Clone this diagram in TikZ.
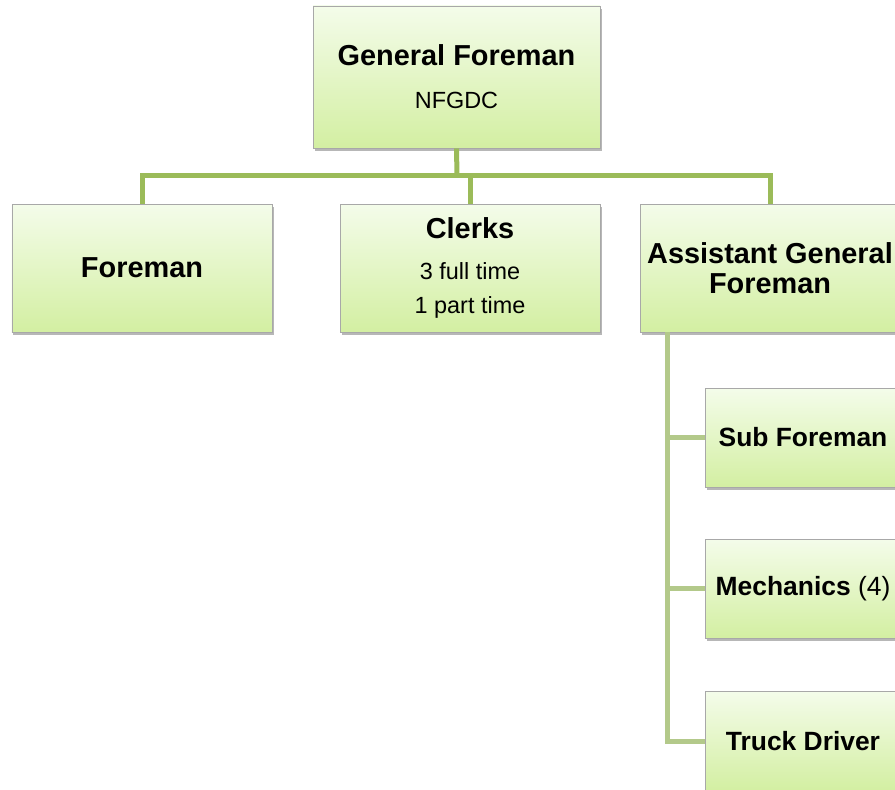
\documentclass[tikz,border=0pt]{standalone}
\usepackage{fontspec}
\setmainfont{Liberation Sans}
\usetikzlibrary{shadows}
\definecolor{boxtop}{HTML}{F4FCEA}
\definecolor{boxbot}{HTML}{D3EFA2}
\definecolor{boxline}{HTML}{A8A8A8}
\definecolor{linegreen}{HTML}{9BBB59}
\definecolor{linelight}{HTML}{B3C98A}
\tikzset{
  box/.style={draw=boxline,line width=0.8bp,top color=boxtop,bottom color=boxbot,
    align=center,inner sep=0pt,font=\fontsize{23.5}{34}\selectfont,
    drop shadow={shadow xshift=1.5bp,shadow yshift=-3bp,opacity=0.4,fill=black!70}},
  bigbox/.style={box,minimum width=260bp,minimum height=128bp},
  smallbox/.style={box,minimum width=196bp,minimum height=99bp,
    font=\fontsize{26.5}{30}\selectfont},
  conn/.style={draw=linegreen,line width=5bp},
  subconn/.style={draw=linelight,line width=5bp},
}
\newcommand{\ttl}[1]{{\bfseries\fontsize{29}{31}\selectfont #1}}
\begin{document}
\begin{tikzpicture}[x=1bp,y=-1bp]
   \useasboundingbox (0,0) rectangle (895,790);
   \clip (0,0) rectangle (895,790);

   % 箱
   \node[box,minimum width=287bp,minimum height=142bp] (gf) at (456.5,77)
     {\ttl{General Foreman}\\[9bp]NFGDC};
   \node[bigbox] (fm) at (142,268) {\ttl{Foreman}};
   \node[bigbox] (clk) at (470,268)
     {\ttl{Clerks}\\[7bp]3 full time\\1 part time};
   \node[bigbox,font=\fontsize{29}{30}\selectfont] (agf) at (770,268)
     {\ttl{Assistant General}\\\ttl{Foreman}};

   \node[smallbox] (sf) at (803,437.5) {\textbf{Sub Foreman}};
   \node[smallbox] (mech) at (803,588.5) {\textbf{Mechanics} (4)};
   \node[smallbox] (drv) at (803,741) {\textbf{Truck Driver}};

   % 線
   \draw[subconn] ([xshift=28bp]agf.south west) |- (sf.west);
   \draw[subconn] ([xshift=28bp]agf.south west) |- (mech.west);
   \draw[subconn] ([xshift=28bp]agf.south west) |- (drv.west);

   \coordinate (bus) at (457,175.5);
   \draw[conn] (gf.south) -- (bus);
   \draw[conn] (bus) -| (fm.north);
   \draw[conn] (bus) -| (clk.north);
   \draw[conn] (bus) -| (agf.north);
\end{tikzpicture}
\end{document}
